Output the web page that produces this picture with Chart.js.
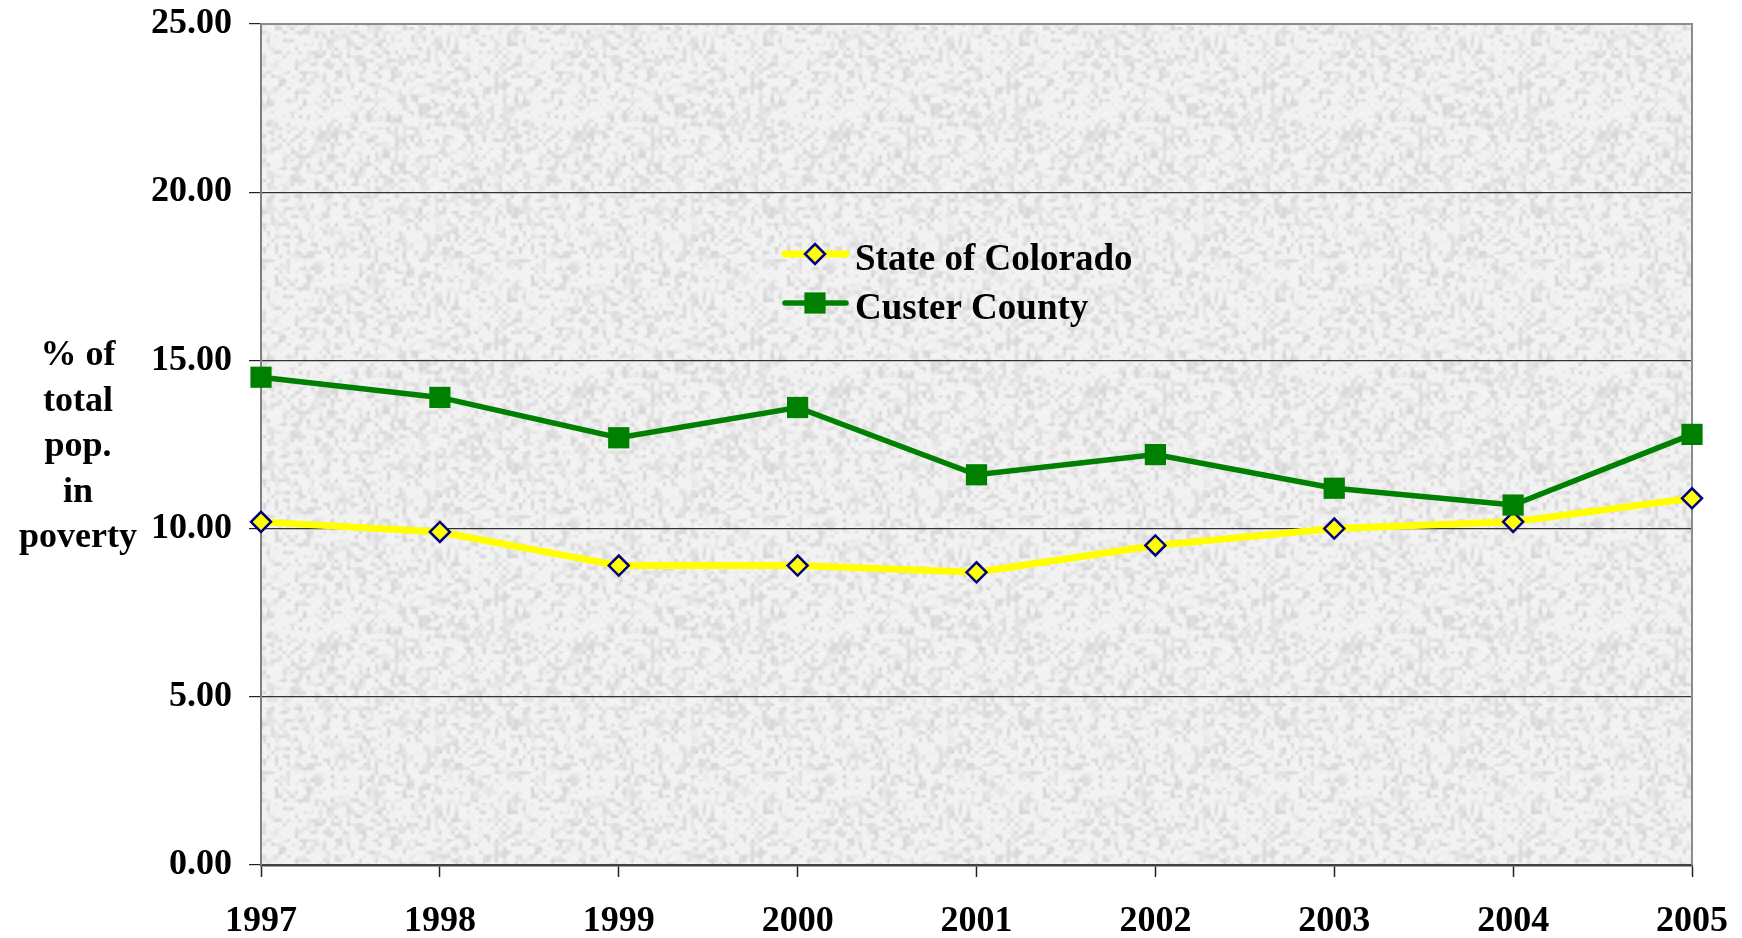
<!DOCTYPE html>
<html>
<head>
<meta charset="utf-8">
<script src="https://cdn.jsdelivr.net/npm/chart.js@4.4.0/dist/chart.umd.min.js"></script>
<style>
  html, body { margin: 0; padding: 0; background: #fff; }
  #wrap { width: 1742px; height: 938px; }
</style>
</head>
<body>
<div id="wrap"><canvas id="povertyChart" width="1742" height="938"></canvas></div>
<script>
// Data
const years = ['1997', '1998', '1999', '2000', '2001', '2002', '2003', '2004', '2005'];
const colorado = [10.2, 9.9, 8.9, 8.9, 8.7, 9.5, 10.0, 10.2, 10.9];
const custer = [14.5, 13.9, 12.7, 13.6, 11.6, 12.2, 11.2, 10.7, 12.8];
const yTicks = [0, 5, 10, 15, 20, 25];
const yTitle = ['% of', 'total', 'pop.', 'in', 'poverty'];

const FONT = "'Liberation Serif', 'Times New Roman', serif";

// small hash for a stone-like background texture
function hash(x, y) {
  let h = Math.imul(x, 374761393) + Math.imul(y, 668265263) | 0;
  h = Math.imul(h ^ (h >>> 13), 1274126177);
  return ((h ^ (h >>> 16)) >>> 0) / 4294967295;
}

function makeTexture() {
  const size = 256;
  const c = document.createElement('canvas');
  c.width = size; c.height = size;
  const g = c.getContext('2d');
  const img = g.createImageData(size, size);
  const cell = 4;
  const n = size / cell;
  function grid(i, j) { return hash(((i % n) + n) % n, ((j % n) + n) % n); }
  for (let y = 0; y < size; y++) {
    for (let x = 0; x < size; x++) {
      const gx = x / cell, gy = y / cell;
      const i = Math.floor(gx), j = Math.floor(gy);
      let fx = gx - i, fy = gy - j;
      fx = fx * fx * (3 - 2 * fx); fy = fy * fy * (3 - 2 * fy);
      const a = grid(i, j), b = grid(i + 1, j), c2 = grid(i, j + 1), d = grid(i + 1, j + 1);
      const v = a * (1 - fx) * (1 - fy) + b * fx * (1 - fy) + c2 * (1 - fx) * fy + d * fx * fy;
      const fine = hash(x + 1000, y + 2000);
      const shade = 245 - Math.max(0, v - 0.4) * 48 - fine * 6;
      const p = (y * size + x) * 4;
      img.data[p] = shade; img.data[p + 1] = shade; img.data[p + 2] = shade; img.data[p + 3] = 255;
    }
  }
  g.putImageData(img, 0, 0);
  return c;
}

const texture = makeTexture();

const backgroundPlugin = {
  id: 'stoneBackground',
  beforeDraw(chart) {
    const { ctx, chartArea: a } = chart;
    ctx.save();
    ctx.fillStyle = ctx.createPattern(texture, 'repeat');
    ctx.fillRect(a.left, a.top, a.right - a.left, a.bottom - a.top);
    ctx.restore();
  },
  beforeDatasetsDraw(chart) {
    const { ctx, chartArea: a } = chart;
    ctx.save();
    ctx.strokeStyle = '#8c8c8c';
    ctx.lineWidth = 2;
    ctx.beginPath();
    ctx.moveTo(a.left, a.top);
    ctx.lineTo(a.right, a.top);
    ctx.lineTo(a.right, a.bottom);
    ctx.stroke();
    ctx.restore();
  },
  afterDraw(chart) {
    const ctx = chart.ctx;
    ctx.save();
    // y axis title, horizontal lines
    ctx.fillStyle = '#000';
    ctx.font = 'bold 36px ' + FONT;
    ctx.textAlign = 'center';
    ctx.textBaseline = 'alphabetic';
    yTitle.forEach((t, i) => ctx.fillText(t, 78, 365 + i * 45.6));

    // legend
    const rows = [254, 303];
    chart.data.datasets.forEach((ds, i) => {
      const y = rows[i];
      const x = 815;
      ctx.strokeStyle = ds.borderColor;
      ctx.lineWidth = ds.borderWidth;
      ctx.lineCap = 'round';
      ctx.beginPath();
      ctx.moveTo(785, y);
      ctx.lineTo(846, y);
      ctx.stroke();
      ctx.fillStyle = ds.pointBackgroundColor;
      ctx.strokeStyle = ds.pointBorderColor;
      ctx.lineWidth = ds.pointBorderWidth;
      ctx.beginPath();
      if (ds.pointStyle === 'rectRot') {
        const r = ds.pointRadius;
        ctx.moveTo(x, y - r); ctx.lineTo(x + r, y); ctx.lineTo(x, y + r); ctx.lineTo(x - r, y); ctx.closePath();
        ctx.fill(); ctx.stroke();
      } else {
        const s = ds.pointRadius * Math.SQRT1_2;
        ctx.rect(x - s, y - s, 2 * s, 2 * s);
        ctx.fill();
      }
      ctx.fillStyle = '#000';
      ctx.font = 'bold 37px ' + FONT;
      ctx.textAlign = 'left';
      ctx.textBaseline = 'alphabetic';
      ctx.fillText(ds.label, 855, y + 16);
    });
    ctx.restore();
  }
};

new Chart(document.getElementById('povertyChart'), {
  type: 'line',
  data: {
    labels: years,
    datasets: [
      {
        label: 'State of Colorado',
        data: colorado,
        borderColor: '#ffff00',
        borderWidth: 7,
        pointStyle: 'rectRot',
        pointRadius: 10,
        pointBackgroundColor: '#ffff00',
        pointBorderColor: '#000080',
        pointBorderWidth: 2.5,
        tension: 0,
        clip: false,
        order: 2
      },
      {
        label: 'Custer County',
        data: custer,
        borderColor: '#008000',
        borderWidth: 5.5,
        pointStyle: 'rect',
        pointRadius: 15,
        pointBackgroundColor: '#008000',
        pointBorderColor: '#008000',
        pointBorderWidth: 0,
        tension: 0,
        clip: false,
        order: 1
      }
    ]
  },
  options: {
    responsive: false,
    animation: false,
    events: [],
    layout: { padding: { top: 24, right: 50, left: 0, bottom: 0 } },
    plugins: {
      legend: { display: false },
      tooltip: { enabled: false }
    },
    scales: {
      x: {
        offset: false,
        grid: {
          drawOnChartArea: false,
          drawTicks: true,
          tickLength: 12,
          tickWidth: 1.5,
          tickColor: '#222'
        },
        border: { display: true, color: '#404040', width: 2.5 },
        ticks: {
          color: '#000',
          font: { family: FONT, size: 36, weight: 'bold' },
          padding: 23,
          maxRotation: 0,
          autoSkip: false
        },
        afterFit(scale) {
          scale.height = 73;
          scale.paddingLeft = 0;
          scale.paddingRight = 0;
        }
      },
      y: {
        min: 0,
        max: 25,
        afterBuildTicks(scale) { scale.ticks = yTicks.map(v => ({ value: v })); },
        grid: {
          color: '#333',
          lineWidth: 1.2,
          drawTicks: true,
          tickLength: 12,
          tickColor: '#222'
        },
        border: { display: true, color: '#808080', width: 2 },
        ticks: {
          color: '#000',
          font: { family: FONT, size: 36, weight: 'bold' },
          padding: 17,
          callback: v => Number(v).toFixed(2)
        },
        afterFit(scale) {
          scale.width = 261;
          scale.paddingTop = 0;
          scale.paddingBottom = 0;
        }
      }
    }
  },
  plugins: [backgroundPlugin]
});
</script>
</body>
</html>
